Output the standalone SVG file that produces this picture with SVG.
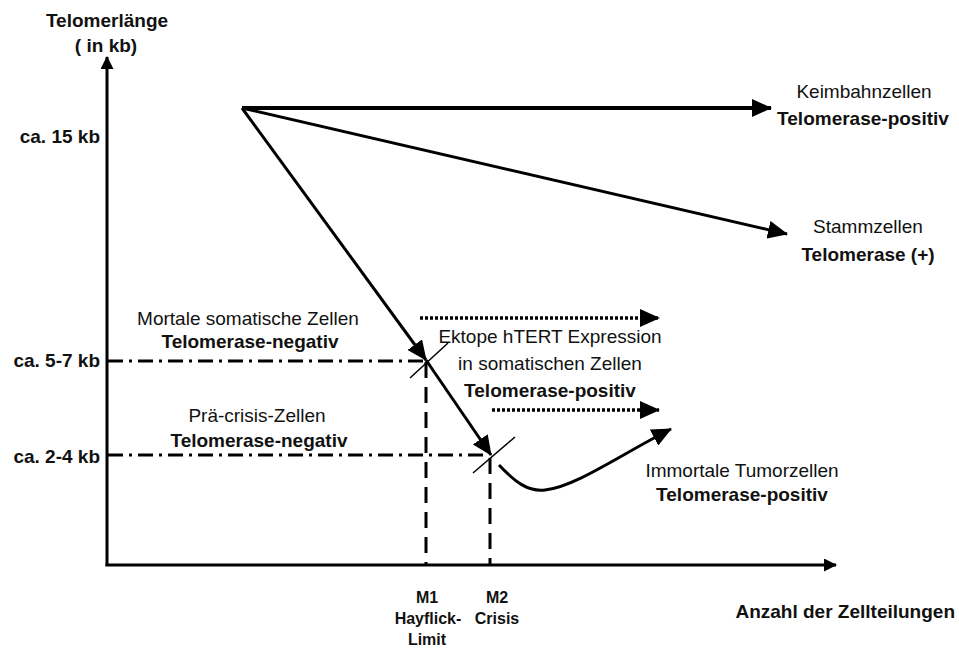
<svg xmlns="http://www.w3.org/2000/svg" width="959" height="648" viewBox="0 0 959 648">
<defs>
<style>
text{font-family:"Liberation Sans",Arial,sans-serif;font-size:19px;fill:#111;}
.b{font-weight:bold;}
.m{text-anchor:middle;}
.r{text-anchor:end;}
.s{font-size:16px;font-weight:bold;}
.ln{stroke:#000;fill:none;}
.dd{stroke:#000;stroke-width:3;stroke-dasharray:15,6,3,6;fill:none;}
.da{stroke:#000;stroke-width:3;stroke-dasharray:16,9;fill:none;}
.dt{stroke:#000;stroke-width:3.5;stroke-dasharray:3,2;fill:none;}
</style>
<marker id="big" viewBox="0 -9 20 18" refX="19" refY="0" markerWidth="20" markerHeight="18" markerUnits="userSpaceOnUse" orient="auto"><path d="M0,-9 L20,0 L0,9 z" fill="#000"/></marker>
<marker id="sm" viewBox="0 -6.5 13 13" refX="12" refY="0" markerWidth="13" markerHeight="13" markerUnits="userSpaceOnUse" orient="auto"><path d="M0,-6.5 L13,0 L0,6.5 z" fill="#000"/></marker>
</defs>
<rect width="959" height="648" fill="#fff"/>

<g id="connectors">
<line id="y-axis" class="ln" x1="107" y1="566" x2="107" y2="57" stroke-width="3" marker-end="url(#sm)"/>
<line id="x-axis" class="ln" x1="105.5" y1="565" x2="836" y2="565" stroke-width="3" marker-end="url(#sm)"/>
<line class="dd" x1="108" y1="361" x2="425" y2="361"/>
<line class="dd" x1="108" y1="455" x2="488" y2="455"/>
<line class="da" x1="426" y1="362" x2="426" y2="564"/>
<line class="da" x1="490" y1="458" x2="490" y2="564"/>
<line class="ln" x1="242" y1="108" x2="771" y2="108" stroke-width="4" marker-end="url(#big)"/>
<line class="ln" x1="242" y1="108" x2="787" y2="234" stroke-width="3" marker-end="url(#big)"/>
<line class="ln" x1="242" y1="108" x2="426" y2="360" stroke-width="3" marker-end="url(#big)"/>
<line class="ln" x1="426" y1="360" x2="491" y2="455" stroke-width="3" marker-end="url(#big)"/>
<line class="ln" x1="410" y1="378" x2="448" y2="343" stroke-width="1.5"/>
<line class="ln" x1="473" y1="473" x2="515" y2="437" stroke-width="1.5"/>
<path class="ln" d="M499,465 C515,482 528,492 545,490 C575,487 620,455 671,429" stroke-width="3" marker-end="url(#big)"/>
<line class="dt" x1="420" y1="318" x2="659" y2="318" marker-end="url(#big)"/>
<line class="dt" x1="492" y1="410" x2="659" y2="410" marker-end="url(#big)"/>
</g>

<g id="axis-y-label">
<text class="b m" x="107" y="27">Telomerlänge</text>
<text class="b m" x="106" y="52">( in kb)</text>
</g>
<g id="axis-x-label"><text class="b r" x="955" y="618">Anzahl der Zellteilungen</text></g>
<g id="tick-15"><text class="b r" x="100" y="143">ca. 15 kb</text></g>
<g id="tick-57"><text class="b r" x="100" y="367">ca. 5-7 kb</text></g>
<g id="tick-24"><text class="b r" x="100" y="463">ca. 2-4 kb</text></g>

<g id="keimbahn">
<text class="m" x="864" y="98">Keimbahnzellen</text>
<text class="b m" x="863" y="125">Telomerase-positiv</text>
</g>
<g id="stamm">
<text class="m" x="868" y="233">Stammzellen</text>
<text class="b m" x="868" y="261">Telomerase (+)</text>
</g>
<g id="mortal">
<text class="m" x="248" y="325">Mortale somatische Zellen</text>
<text class="b m" x="250" y="348">Telomerase-negativ</text>
</g>
<g id="praecrisis">
<text class="m" x="257" y="422">Prä-crisis-Zellen</text>
<text class="b m" x="259" y="447">Telomerase-negativ</text>
</g>
<g id="ektop">
<text class="m" x="550" y="343">Ektope hTERT Expression</text>
<text class="m" x="550" y="370">in somatischen Zellen</text>
<text class="b m" x="550" y="397">Telomerase-positiv</text>
</g>
<g id="immortal">
<text class="m" x="742" y="477">Immortale Tumorzellen</text>
<text class="b m" x="742" y="501">Telomerase-positiv</text>
</g>
<g id="m1">
<text class="s m" x="427" y="603">M1</text>
<text class="s m" x="428" y="624">Hayflick-</text>
<text class="s m" x="427" y="645">Limit</text>
</g>
<g id="m2">
<text class="s m" x="497" y="603">M2</text>
<text class="s m" x="497" y="624">Crisis</text>
</g>
</svg>
